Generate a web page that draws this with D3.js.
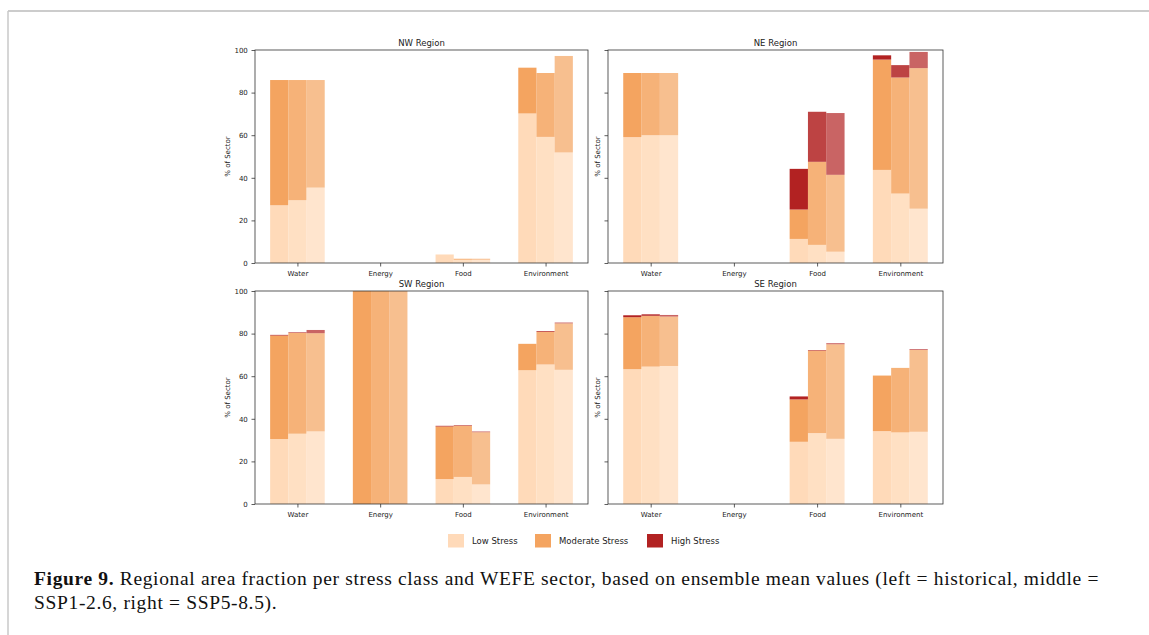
<!DOCTYPE html>
<html>
<head>
<meta charset="utf-8">
<script src="https://cdn.jsdelivr.net/npm/d3@7"></script>
<style>
  body { margin: 0; background: #fff; }
  svg { display: block; }
  .tick text { font-family: "DejaVu Sans", sans-serif; }
</style>
</head>
<body>
<div id="chart"></div>
<script>
// sectors on the x axis, three scenario bars per sector
const sectors = ["Water", "Energy", "Food", "Environment"];
const scenarios = ["historical", "SSP1-2.6", "SSP5-8.5"];
const stressClasses = ["Low Stress", "Moderate Stress", "High Stress"];
const stressColors = ["#ffdab9", "#f4a460", "#b22222"];
const scenarioAlpha = [1, 0.85, 0.7];
const yTicks = [0, 20, 40, 60, 80, 100];

// % of sector per stress class: [sector][scenario]
const nwLow      = [[27.1, 29.5, 35.4], [0, 0, 0], [4.0, 1.5, 1.5], [70.2, 59.2, 51.9]];
const nwModerate = [[58.8, 56.4, 50.5], [0, 0, 0], [0, 0.5, 0.5], [21.5, 30.0, 45.3]];
const nwHigh     = [[0, 0, 0], [0, 0, 0], [0, 0, 0], [0, 0, 0]];

const neLow      = [[59.1, 60.0, 60.0], [0, 0, 0], [11.3, 8.5, 5.3], [43.7, 32.6, 25.5]];
const neModerate = [[30.1, 29.2, 29.2], [0, 0, 0], [13.8, 39.0, 36.1], [51.8, 54.5, 66.0]];
const neHigh     = [[0, 0, 0], [0, 0, 0], [19.1, 23.5, 29.0], [2.0, 5.8, 7.6]];

const swLow      = [[30.5, 33.0, 34.1], [0, 0, 0], [11.7, 12.7, 9.2], [62.8, 65.5, 63.0]];
const swModerate = [[48.6, 47.3, 46.1], [100, 100, 100], [24.7, 24.0, 24.5], [12.4, 15.3, 21.8]];
const swHigh     = [[0.3, 0.3, 1.5], [0, 0, 0], [0.3, 0.3, 0.35], [0, 0.4, 0.4]];

const seLow      = [[63.3, 64.5, 64.8], [0, 0, 0], [29.2, 33.3, 30.6], [34.2, 33.6, 33.9]];
const seModerate = [[24.4, 23.8, 23.2], [0, 0, 0], [19.9, 38.7, 44.4], [26.1, 30.3, 38.4]];
const seHigh     = [[0.9, 0.8, 0.75], [0, 0, 0], [1.4, 0.3, 0.5], [0, 0, 0.4]];

const regions = [
	{name: "NW Region", classes: [nwLow, nwModerate, nwHigh]},
	{name: "NE Region", classes: [neLow, neModerate, neHigh]},
	{name: "SW Region", classes: [swLow, swModerate, swHigh]},
	{name: "SE Region", classes: [seLow, seModerate, seHigh]}
];

const width = 1149, height = 635;
const barWidth = 0.22;

const svg = d3.select("#chart").append("svg")
	.attr("width", width)
	.attr("height", height);

// page frame
svg.append("line").attr("x1", 8).attr("x2", width).attr("y1", 11).attr("y2", 11)
	.attr("stroke", "#9a9a9a").attr("stroke-width", 1.2);
svg.append("line").attr("x1", 8).attr("x2", 8).attr("y1", 11).attr("y2", height)
	.attr("stroke", "#c8c8c8").attr("stroke-width", 1.5);

// panel boxes (left, top, right, bottom)
const panels = [
	[255, 50, 588, 263],
	[608, 50, 943, 263],
	[255, 291, 588, 504],
	[608, 291, 943, 504]
];

function drawPanel(region, box, idx){
	const [l, t, r, b] = box;
	const g = svg.append("g");

	const x = d3.scaleLinear().domain([-0.513, 3.513]).range([l, r]);
	const y = d3.scaleLinear().domain([0, 100]).range([b, t]);

	// stacked bars
	sectors.forEach((sector, si) => {
		scenarios.forEach((sc, ci) => {
			let base = 0;
			region.classes.forEach((cls, ki) => {
				const v = cls[si][ci];
				if (v > 0) {
					const xc = si + (ci - 1) * barWidth;
					g.append("rect")
						.attr("x", x(xc - barWidth / 2))
						.attr("width", x(xc + barWidth / 2) - x(xc - barWidth / 2))
						.attr("y", y(base + v))
						.attr("height", y(base) - y(base + v))
						.attr("fill", stressColors[ki])
						.attr("fill-opacity", scenarioAlpha[ci]);
				}
				base += v;
			});
		});
	});

	// axes
	const xAxis = d3.axisBottom(x)
		.tickValues(d3.range(sectors.length))
		.tickFormat(i => sectors[i])
		.tickSize(3.5)
		.tickSizeOuter(0);
	const yAxis = d3.axisLeft(y)
		.tickValues(yTicks)
		.tickSize(3.5)
		.tickSizeOuter(0)
		.tickFormat(idx % 2 === 0 ? d3.format("d") : () => "");

	const gx = g.append("g").attr("transform", `translate(0,${b})`).call(xAxis);
	const gy = g.append("g").attr("transform", `translate(${l},0)`).call(yAxis);
	gx.select(".domain").remove();
	gy.select(".domain").remove();
	[gx, gy].forEach(a => {
		a.selectAll(".tick line").attr("stroke", "#333").attr("stroke-width", 0.8);
		a.selectAll(".tick text").attr("font-size", 7).attr("fill", "#222");
	});
	gx.selectAll(".tick text").attr("dy", "0.9em");
	gy.selectAll(".tick text").attr("dx", "-0.1em");

	// frame
	g.append("rect")
		.attr("x", l).attr("y", t)
		.attr("width", r - l).attr("height", b - t)
		.attr("fill", "none")
		.attr("stroke", "#333")
		.attr("stroke-width", 0.8);

	g.append("text")
		.attr("x", (l + r) / 2)
		.attr("y", t - 4)
		.attr("text-anchor", "middle")
		.attr("font-family", "DejaVu Sans, sans-serif")
		.attr("font-size", 8.5)
		.attr("fill", "#222")
		.text(region.name);

	g.append("text")
		.attr("transform", `translate(${idx % 2 === 0 ? l - 25 : l - 8},${(t + b) / 2}) rotate(-90)`)
		.attr("text-anchor", "middle")
		.attr("font-family", "DejaVu Sans, sans-serif")
		.attr("font-size", 7)
		.attr("fill", "#222")
		.text("% of Sector");
}

regions.forEach((region, i) => drawPanel(region, panels[i], i));

// legend
const legendX = [448, 535, 647];
const legend = svg.append("g");
stressClasses.forEach((name, i) => {
	legend.append("rect")
		.attr("x", legendX[i]).attr("y", 534)
		.attr("width", 16).attr("height", 13.5)
		.attr("fill", stressColors[i]);
	legend.append("text")
		.attr("x", legendX[i] + 24).attr("y", 544)
		.attr("font-family", "DejaVu Sans, sans-serif")
		.attr("font-size", 8.5)
		.attr("fill", "#222")
		.text(name);
});

// caption
const caption = svg.append("text")
	.attr("font-family", "Liberation Serif, DejaVu Serif, serif")
	.attr("font-size", 19.5)
	.style("letter-spacing", "0.65px")
	.attr("fill", "#111");
const line1 = caption.append("tspan").attr("x", 34).attr("y", 585);
line1.append("tspan").attr("font-weight", "bold").text("Figure 9.");
line1.append("tspan").text(" Regional area fraction per stress class and WEFE sector, based on ensemble mean values (left = historical, middle =");
caption.append("tspan").attr("x", 34).attr("y", 609)
	.text("SSP1-2.6, right = SSP5-8.5).");
</script>
</body>
</html>
